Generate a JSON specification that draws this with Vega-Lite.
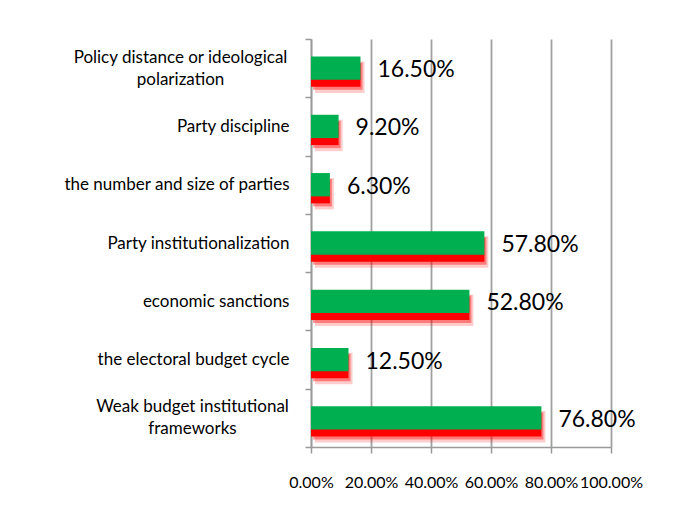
{
  "$schema": "https://vega.github.io/schema/vega-lite/v6.json",
  "width": 300,
  "height": 408,
  "autosize": "none",
  "padding": {"left": 311, "top": 39, "right": 80, "bottom": 84},
  "background": "white",
  "config": {"view": {"stroke": null}, "font": "Lato"},
  "data": {
    "values": [
      {"factor": "Policy distance or ideological polarization", "share": 0.165},
      {"factor": "Party discipline", "share": 0.092},
      {"factor": "the number and size of parties", "share": 0.063},
      {"factor": "Party institutionalization", "share": 0.578},
      {"factor": "economic sanctions", "share": 0.528},
      {"factor": "the electoral budget cycle", "share": 0.125},
      {"factor": "Weak budget institutional frameworks", "share": 0.768}
    ]
  },
  "encoding": {
    "y": {
      "field": "factor",
      "type": "nominal",
      "sort": null,
      "scale": {"paddingInner": 0, "paddingOuter": 0},
      "axis": {
        "title": null,
        "domainColor": "#999999",
        "domainWidth": 1.5,
        "tickColor": "#999999",
        "tickWidth": 1.5,
        "tickSize": 6,
        "tickBand": "extent",
        "labelFont": "Lato",
        "labelFontSize": 17,
        "labelColor": "#000000",
        "labelLimit": 320,
        "labelLineHeight": 22,
        "labelExpr": "datum.label === 'Policy distance or ideological polarization' ? ['Policy distance or ideological', 'polarization'] : datum.label === 'Weak budget institutional frameworks' ? ['Weak budget institutional', 'frameworks'] : datum.label",
        "labelAlign": {
          "condition": {"test": "datum.value === 'Policy distance or ideological polarization' || datum.value === 'Weak budget institutional frameworks'", "value": "center"},
          "value": "right"
        },
        "labelPadding": {
          "condition": [
            {"test": "datum.value === 'Policy distance or ideological polarization'", "value": 125},
            {"test": "datum.value === 'Weak budget institutional frameworks'", "value": 113}
          ],
          "value": 16
        },
        "labelOffset": {
          "condition": {"test": "datum.value === 'Policy distance or ideological polarization' || datum.value === 'Weak budget institutional frameworks'", "value": -11},
          "value": 0
        }
      }
    }
  },
  "layer": [
    {
      "mark": {"type": "bar", "color": "#ff0000", "opacity": 0.2, "height": {"band": 0.54}, "yOffset": 9, "xOffset": 4},
      "encoding": {
        "x": {
          "field": "share",
          "type": "quantitative",
          "scale": {"domain": [0, 1]},
          "axis": {
            "title": null,
            "format": ".2%",
            "values": [0, 0.2, 0.4, 0.6, 0.8, 1],
            "grid": true,
            "gridColor": "#a0a0a0",
            "gridWidth": 1.8,
            "domainColor": "#999999",
            "domainWidth": 1.5,
            "tickColor": "#999999",
            "tickWidth": 1.5,
            "tickSize": 6,
            "labelFont": "Lato",
            "labelFontSize": 16,
            "labelColor": "#000000",
            "labelPadding": 21,
            "labelFlush": false,
            "labelOverlap": false
          }
        }
      }
    },
    {
      "mark": {"type": "bar", "color": "#ff0000", "opacity": 0.4, "height": {"band": 0.47}, "yOffset": 8, "xOffset": 2},
      "encoding": {"x": {"field": "share", "type": "quantitative"}}
    },
    {
      "mark": {"type": "bar", "color": "#ff0000", "opacity": 1, "height": {"band": 0.4}, "yOffset": 7, "xOffset": 0},
      "encoding": {"x": {"field": "share", "type": "quantitative"}}
    },
    {
      "mark": {"type": "bar", "color": "#00b050", "height": {"band": 0.4}},
      "encoding": {"x": {"field": "share", "type": "quantitative"}}
    },
    {
      "mark": {"type": "text", "align": "left", "baseline": "middle", "dx": 17, "dy": 2, "font": "Lato", "fontSize": 23, "color": "#000000"},
      "encoding": {
        "x": {"field": "share", "type": "quantitative"},
        "text": {"field": "share", "type": "quantitative", "format": ".2%"}
      }
    }
  ]
}
